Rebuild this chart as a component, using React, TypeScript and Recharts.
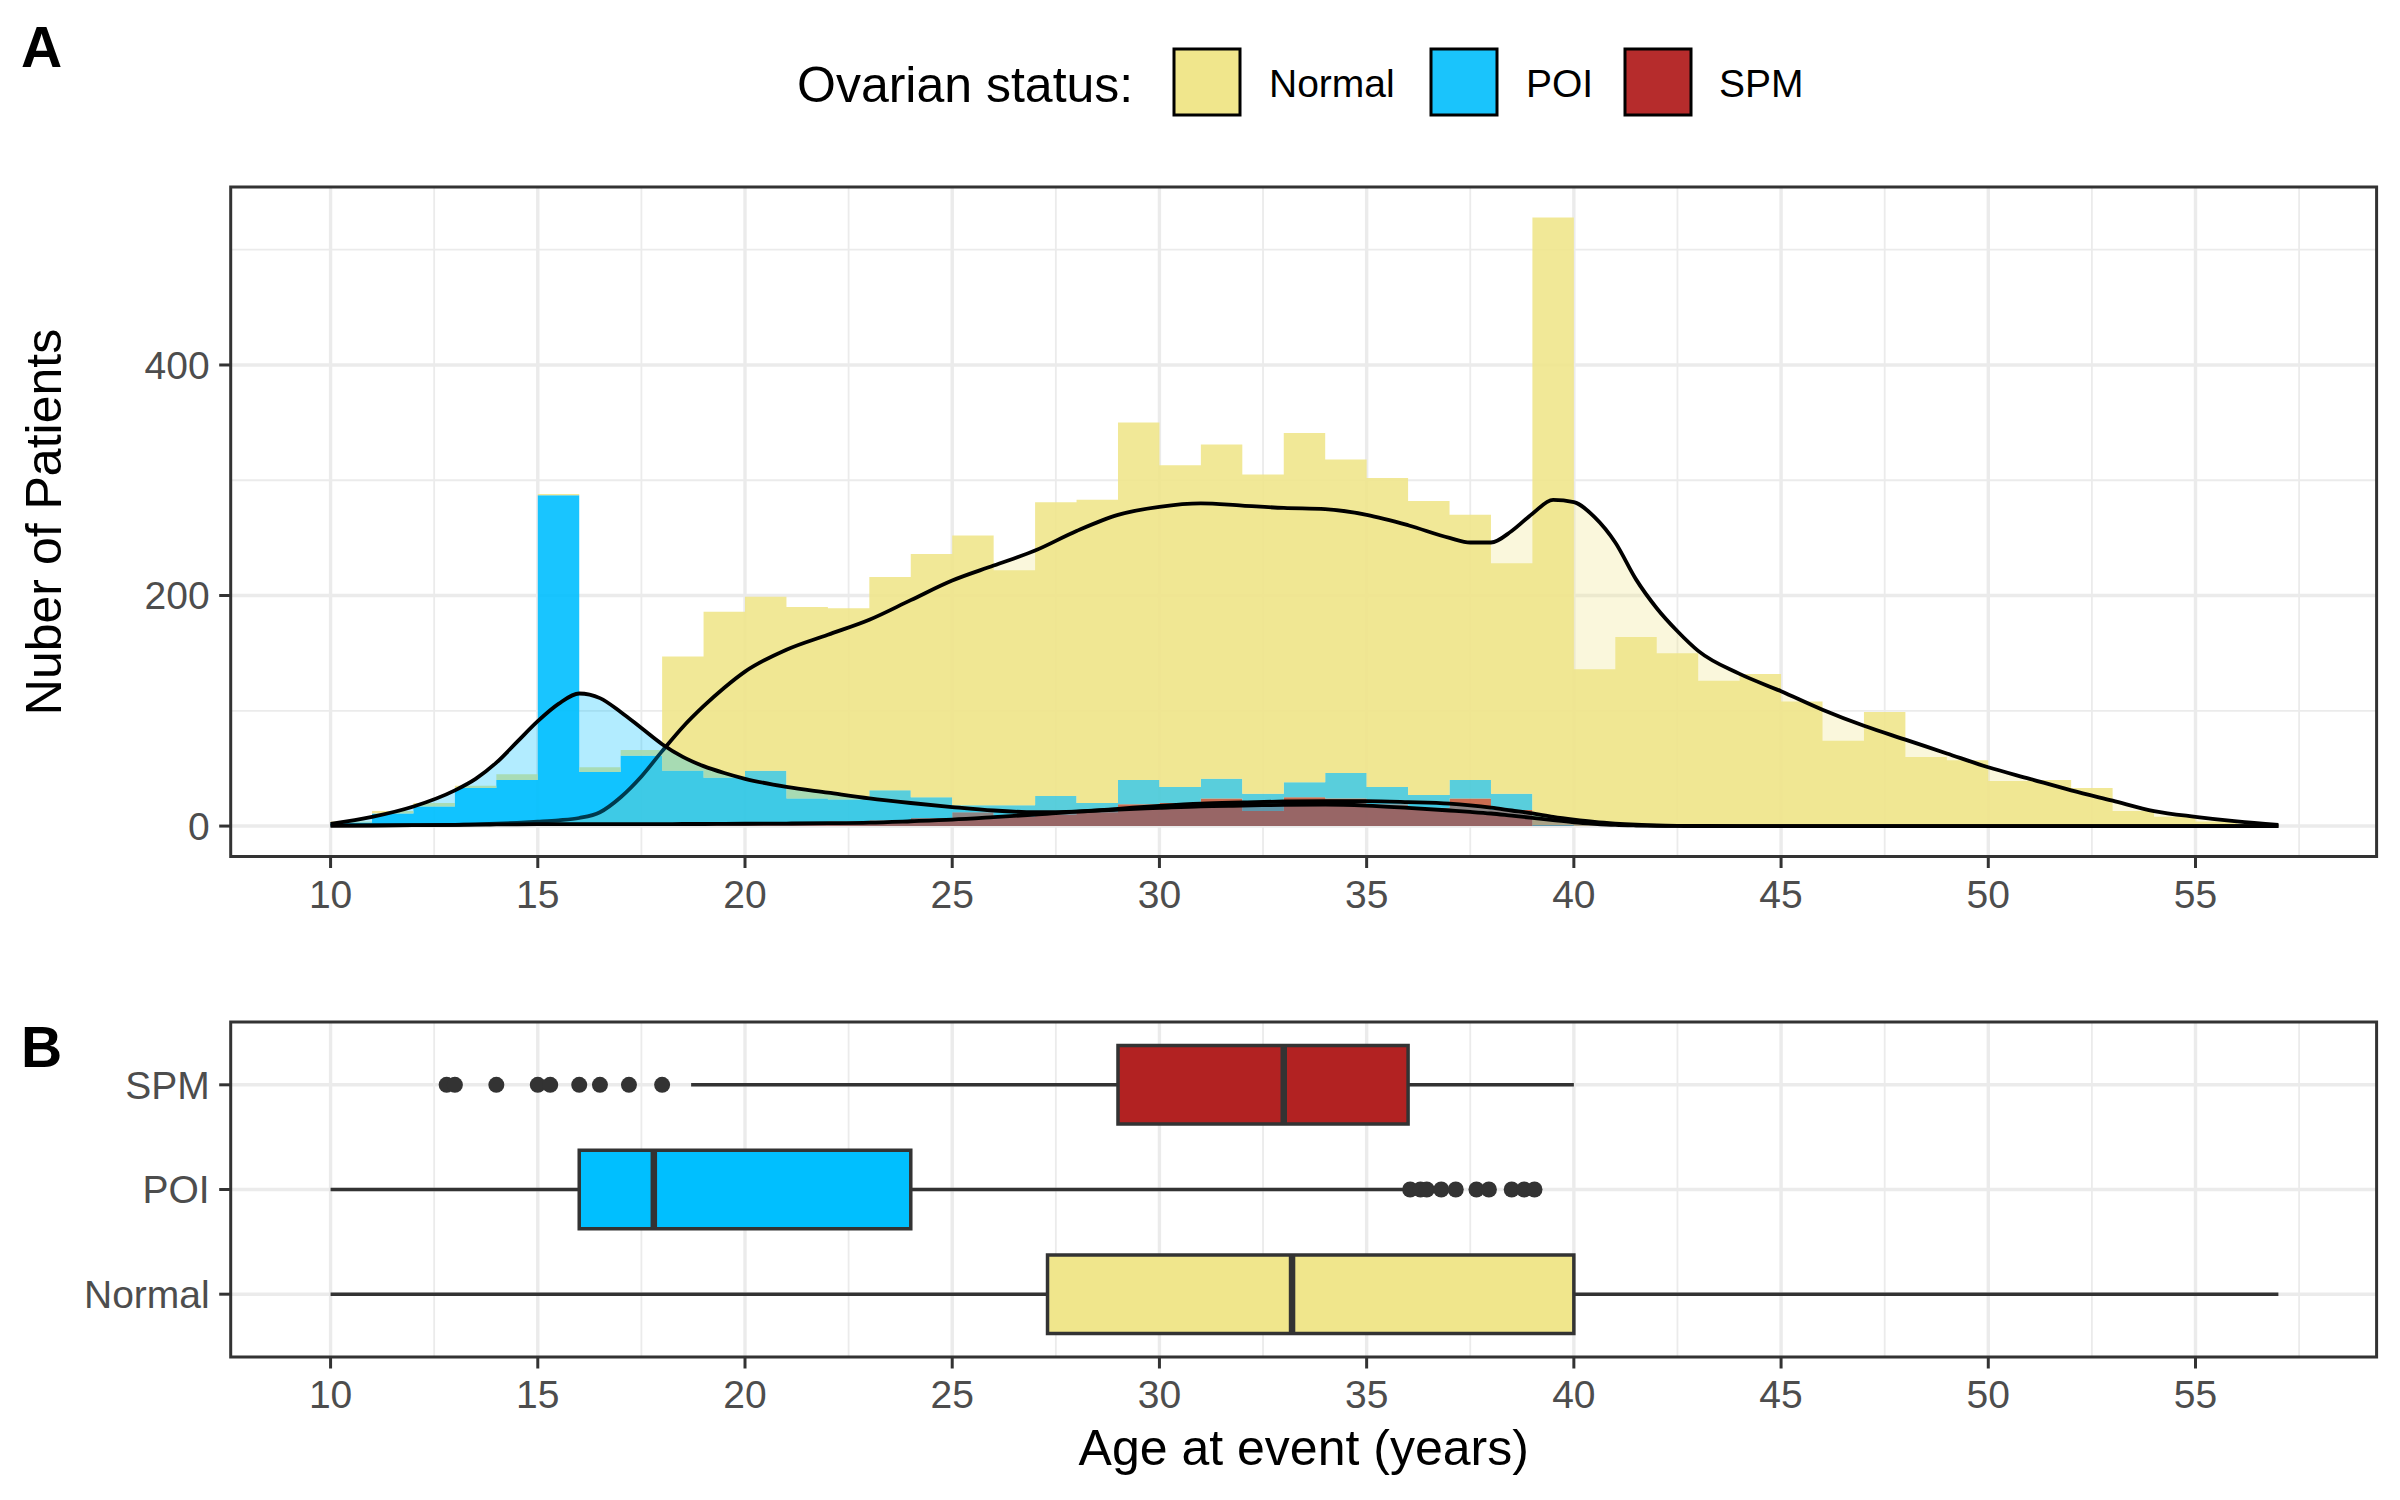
import React from "react";
import {
  ComposedChart,
  Area,
  XAxis,
  YAxis,
  CartesianGrid,
  ReferenceArea,
  ReferenceLine,
  Scatter,
} from "recharts";

// histogram bins (width 1 year), start of each bin; last row closes the final bin
const binStarts = [
  10, 11, 12, 13, 14, 15, 16, 17, 18, 19, 20, 21, 22, 23, 24, 25, 26, 27, 28, 29,
  30, 31, 32, 33, 34, 35, 36, 37, 38, 39, 40, 41, 42, 43, 44, 45, 46, 47, 48, 49,
  50, 51, 52, 53, 54, 55, 56, 57,
];
// stacked counts: SPM at the bottom, POI in the middle, Normal on top
const spmCounts = [
  0, 0, 2, 1, 0, 2, 2, 1, 2, 2, 3, 3, 4, 5, 7, 12, 8, 10, 12, 19,
  20, 24, 13, 25, 24, 19, 16, 24, 14, 0, 0, 0, 0, 0, 0, 0, 0, 0, 0, 0,
  0, 0, 0, 0, 0, 0, 0, 0,
];
const poiCounts = [
  3, 11, 15, 32, 40, 285, 45, 60, 46, 40, 45, 21, 19, 26, 18, 6, 10, 16, 8, 21,
  14, 17, 15, 13, 22, 15, 11, 16, 14, 1, 0, 0, 0, 0, 0, 0, 0, 0, 0, 0,
  0, 0, 0, 0, 0, 0, 0, 0,
];
const normalCounts = [
  1, 2, 3, 2, 5, 1, 4, 5, 99, 144, 151, 166, 166, 185, 211, 234, 204, 255, 263, 310,
  279, 290, 277, 303, 272, 268, 255, 230, 200, 527, 136, 164, 150, 126, 132, 108, 74, 99, 60, 57,
  39, 40, 33, 13, 8, 4, 2, 0,
];

// density curves, scaled to counts
const densityAges = [
  10, 11, 12, 13, 13.5, 14, 14.5, 15, 15.5, 16, 16.5, 17, 17.5, 18, 18.5, 19, 19.5, 20,
  21, 22, 23, 24, 25, 26, 27, 28, 29, 30, 31, 32, 33, 34, 35, 36, 37,
  37.5, 38, 38.5, 39, 39.5, 40, 40.5, 41, 41.5, 42, 42.5, 43,
  44, 45, 46, 47, 48, 49, 50, 51, 52, 53, 54, 55, 56, 57,
];
const normalDensity = [
  0.5, 0.6, 0.8, 1, 1.4, 2, 2.8, 3.8, 5, 7, 12, 25, 43, 65, 86, 104, 120, 134,
  153, 166, 179, 196, 213, 226, 239, 256, 270, 277, 280, 278, 276, 275, 270, 261, 250,
  246, 246, 256, 271, 283, 281, 268, 246, 214, 189, 169, 152,
  132, 117, 101, 87, 75, 63, 51, 41, 31, 22, 13, 8, 4, 1,
];
const poiDensity = [
  2, 8, 17, 31, 41, 55, 73, 91, 106, 115, 111, 99, 85, 71, 60, 52, 46, 41,
  34, 29, 24, 20, 16.5, 13.5, 12, 12.5, 15, 17.5, 19.5, 20.5, 21.3, 21.6, 21.6, 20.8, 19.5,
  18, 16, 13.5, 11, 8, 5.6, 3.6, 2.2, 1.2, 0.5, 0.2, 0.1,
  0, 0, 0, 0, 0, 0, 0, 0, 0, 0, 0, 0, 0, 0,
];
const spmDensity = [
  0.3, 0.5, 0.8, 1.1, 1.3, 1.4, 1.5, 1.6, 1.7, 1.7, 1.7, 1.7, 1.7, 1.7, 1.8, 1.8, 1.9, 2,
  2.2, 2.5, 3, 4.2, 5.6, 7.7, 10, 12.5, 14.3, 15.8, 17.2, 17.8, 18.4, 18.7, 17.8, 15.8, 13.5,
  12.3, 10.9, 9, 7.1, 5.1, 3.3, 2, 1, 0.5, 0.2, 0.1, 0,
  0, 0, 0, 0, 0, 0, 0, 0, 0, 0, 0, 0, 0, 0,
];

// boxplot summaries, rows: Normal (0), POI (1), SPM (2)
const statuses = ["Normal", "POI", "SPM"];
const boxLow = [10, 10, 18.7];
const boxQ1 = [27.3, 16.0, 29.0];
const boxMedian = [33.2, 17.8, 33.0];
const boxQ3 = [40.0, 24.0, 36.0];
const boxHigh = [57.0, 35.9, 40.0];
const poiOutliers = [36.05, 36.3, 36.45, 36.8, 37.15, 37.65, 37.95, 38.5, 38.8, 39.05];
const spmOutliers = [12.8, 13.0, 14.0, 15.0, 15.3, 16.0, 16.5, 17.2, 18.0];

const ageTicks = [10, 15, 20, 25, 30, 35, 40, 45, 50, 55];
const ageMinor = [12.5, 17.5, 22.5, 27.5, 32.5, 37.5, 42.5, 47.5, 52.5, 57.5];
const countTicks = [0, 200, 400];
const countMinor = [100, 300, 500];

const KHAKI = "#F0E68C";
const SKY = "#00BFFF";
const BRICK = "#B22222";
const boxColors = [KHAKI, SKY, BRICK];

const X_DOMAIN: [number, number] = [7.59, 59.37];
const Y_DOMAIN: [number, number] = [-26.4, 554.4];
const ROW_DOMAIN: [number, number] = [-0.6, 2.6];

const histData = binStarts.map((age, i) => ({
  age,
  spm: spmCounts[i],
  poi: poiCounts[i],
  normal: normalCounts[i],
}));
const densityData = densityAges.map((age, i) => ({
  age,
  normal: normalDensity[i],
  poi: poiDensity[i],
  spm: spmDensity[i],
}));
const outlierData = [
  ...poiOutliers.map((age) => ({ age, row: 1 })),
  ...spmOutliers.map((age) => ({ age, row: 2 })),
];

const tickStyle = { fontSize: 39, fill: "#4D4D4D" };
const topMargin = { top: 187, right: 23.4, bottom: 23.5, left: 100 };
const FONT = "'Liberation Sans', Arial, Helvetica, sans-serif";

export default function App() {
  return (
    <div
      style={{
        position: "absolute",
        left: 0,
        top: 0,
        width: 2400,
        height: 1500,
        background: "#fff",
        fontFamily: FONT,
      }}
    >
      {/* panel A: stacked histogram */}
      <div style={{ position: "absolute", left: 0, top: 0 }}>
        <ComposedChart width={2400} height={940} data={histData} margin={topMargin}>
          <CartesianGrid stroke="#EBEBEB" strokeWidth={1.8} verticalValues={ageMinor} horizontalValues={countMinor} />
          <CartesianGrid stroke="#EBEBEB" strokeWidth={3.4} verticalValues={ageTicks} horizontalValues={countTicks} />
          <XAxis
            dataKey="age"
            type="number"
            domain={X_DOMAIN}
            allowDataOverflow
            ticks={ageTicks}
            interval={0}
            height={60}
            axisLine={false}
            tickSize={11.5}
            tickMargin={12}
            tickLine={{ stroke: "#333333", strokeWidth: 3 }}
            tick={tickStyle}
          />
          <YAxis
            type="number"
            domain={Y_DOMAIN}
            allowDataOverflow
            ticks={countTicks}
            interval={0}
            width={130.7}
            axisLine={false}
            tickSize={11.5}
            tickMargin={9.5}
            tickLine={{ stroke: "#333333", strokeWidth: 3 }}
            tick={tickStyle}
          />
          <Area type="stepAfter" dataKey="spm" stackId="h" stroke="none" fill={BRICK} fillOpacity={0.9} isAnimationActive={false} />
          <Area type="stepAfter" dataKey="poi" stackId="h" stroke="none" fill={SKY} fillOpacity={0.9} isAnimationActive={false} />
          <Area type="stepAfter" dataKey="normal" stackId="h" stroke="none" fill={KHAKI} fillOpacity={0.9} isAnimationActive={false} />
          <ReferenceArea
            x1={X_DOMAIN[0]}
            x2={X_DOMAIN[1]}
            y1={Y_DOMAIN[0]}
            y2={Y_DOMAIN[1]}
            fill="none"
            stroke="#333333"
            strokeWidth={3}
            ifOverflow="visible"
          />
        </ComposedChart>
      </div>

      {/* panel A: density curves drawn over the histogram */}
      <div style={{ position: "absolute", left: 0, top: 0 }}>
        <ComposedChart width={2400} height={940} data={densityData} margin={topMargin}>
          <XAxis
            dataKey="age"
            type="number"
            domain={X_DOMAIN}
            allowDataOverflow
            height={60}
            tick={false}
            tickLine={false}
            axisLine={false}
          />
          <YAxis
            type="number"
            domain={Y_DOMAIN}
            allowDataOverflow
            width={130.7}
            tick={false}
            tickLine={false}
            axisLine={false}
          />
          <Area type="monotone" dataKey="normal" baseValue={0} stroke="#000" strokeWidth={3.8} fill={KHAKI} fillOpacity={0.3} isAnimationActive={false} />
          <Area type="monotone" dataKey="poi" baseValue={0} stroke="#000" strokeWidth={3.8} fill={SKY} fillOpacity={0.3} isAnimationActive={false} />
          <Area type="monotone" dataKey="spm" baseValue={0} stroke="#000" strokeWidth={3.8} fill={BRICK} fillOpacity={0.3} isAnimationActive={false} />
        </ComposedChart>
      </div>

      {/* panel B: boxplots */}
      <div style={{ position: "absolute", left: 0, top: 960 }}>
        <ComposedChart width={2400} height={500} margin={{ top: 62, right: 23.4, bottom: 43, left: 100 }}>
          <CartesianGrid stroke="#EBEBEB" strokeWidth={1.8} verticalValues={ageMinor} horizontal={false} />
          <CartesianGrid stroke="#EBEBEB" strokeWidth={3.4} verticalValues={ageTicks} horizontalValues={[0, 1, 2]} />
          <XAxis
            dataKey="age"
            type="number"
            domain={X_DOMAIN}
            allowDataOverflow
            ticks={ageTicks}
            interval={0}
            height={60}
            axisLine={false}
            tickSize={11.5}
            tickMargin={12}
            tickLine={{ stroke: "#333333", strokeWidth: 3 }}
            tick={tickStyle}
          />
          <YAxis
            dataKey="row"
            type="number"
            domain={ROW_DOMAIN}
            allowDataOverflow
            ticks={[0, 1, 2]}
            interval={0}
            tickFormatter={(v: number) => statuses[v]}
            width={130.7}
            axisLine={false}
            tickSize={11.5}
            tickMargin={9.5}
            tickLine={{ stroke: "#333333", strokeWidth: 3 }}
            tick={tickStyle}
          />
          {statuses.map((s, i) => (
            <ReferenceLine
              key={"wl" + s}
              segment={[{ x: boxLow[i], y: i }, { x: boxQ1[i], y: i }]}
              stroke="#333333"
              strokeWidth={3.4}
              ifOverflow="visible"
            />
          ))}
          {statuses.map((s, i) => (
            <ReferenceLine
              key={"wh" + s}
              segment={[{ x: boxQ3[i], y: i }, { x: boxHigh[i], y: i }]}
              stroke="#333333"
              strokeWidth={3.4}
              ifOverflow="visible"
            />
          ))}
          {statuses.map((s, i) => (
            <ReferenceArea
              key={"box" + s}
              x1={boxQ1[i]}
              x2={boxQ3[i]}
              y1={i - 0.375}
              y2={i + 0.375}
              fill={boxColors[i]}
              fillOpacity={1}
              stroke="#333333"
              strokeWidth={3.5}
              ifOverflow="visible"
            />
          ))}
          {statuses.map((s, i) => (
            <ReferenceLine
              key={"med" + s}
              segment={[{ x: boxMedian[i], y: i - 0.375 }, { x: boxMedian[i], y: i + 0.375 }]}
              stroke="#333333"
              strokeWidth={6.5}
              ifOverflow="visible"
            />
          ))}
          <Scatter
            data={outlierData}
            dataKey="age"
            isAnimationActive={false}
            shape={(p: any) => <circle cx={p.cx} cy={p.cy} r={8} fill="#333333" />}
          />
          <ReferenceArea
            x1={X_DOMAIN[0]}
            x2={X_DOMAIN[1]}
            y1={ROW_DOMAIN[0]}
            y2={ROW_DOMAIN[1]}
            fill="none"
            stroke="#333333"
            strokeWidth={3}
            ifOverflow="visible"
          />
        </ComposedChart>
      </div>

      {/* titles, panel tags and legend */}
      <svg
        width={2400}
        height={1500}
        style={{ position: "absolute", left: 0, top: 0, pointerEvents: "none" }}
        fontFamily={FONT}
      >
        <text x={21} y={67} fontSize={57} fontWeight="bold" fill="#000">A</text>
        <text x={21} y={1067} fontSize={57} fontWeight="bold" fill="#000">B</text>

        <text x={797} y={102} fontSize={50} fill="#000">Ovarian status:</text>
        <rect x={1174} y={49} width={66} height={66} fill={KHAKI} stroke="#000" strokeWidth={3} />
        <text x={1269} y={97} fontSize={39} fill="#000">Normal</text>
        <rect x={1431} y={49} width={66} height={66} fill="#1AC4FC" stroke="#000" strokeWidth={3} />
        <text x={1526} y={97} fontSize={39} fill="#000">POI</text>
        <rect x={1625} y={49} width={66} height={66} fill="#B62C2C" stroke="#000" strokeWidth={3} />
        <text x={1719} y={97} fontSize={39} fill="#000">SPM</text>

        <text
          x={61}
          y={522}
          fontSize={50}
          fill="#000"
          textAnchor="middle"
          transform="rotate(-90 61 522)"
        >
          Nuber of Patients
        </text>
        <text x={1303.7} y={1464.5} fontSize={50} fill="#000" textAnchor="middle">
          Age at event (years)
        </text>
      </svg>
    </div>
  );
}
